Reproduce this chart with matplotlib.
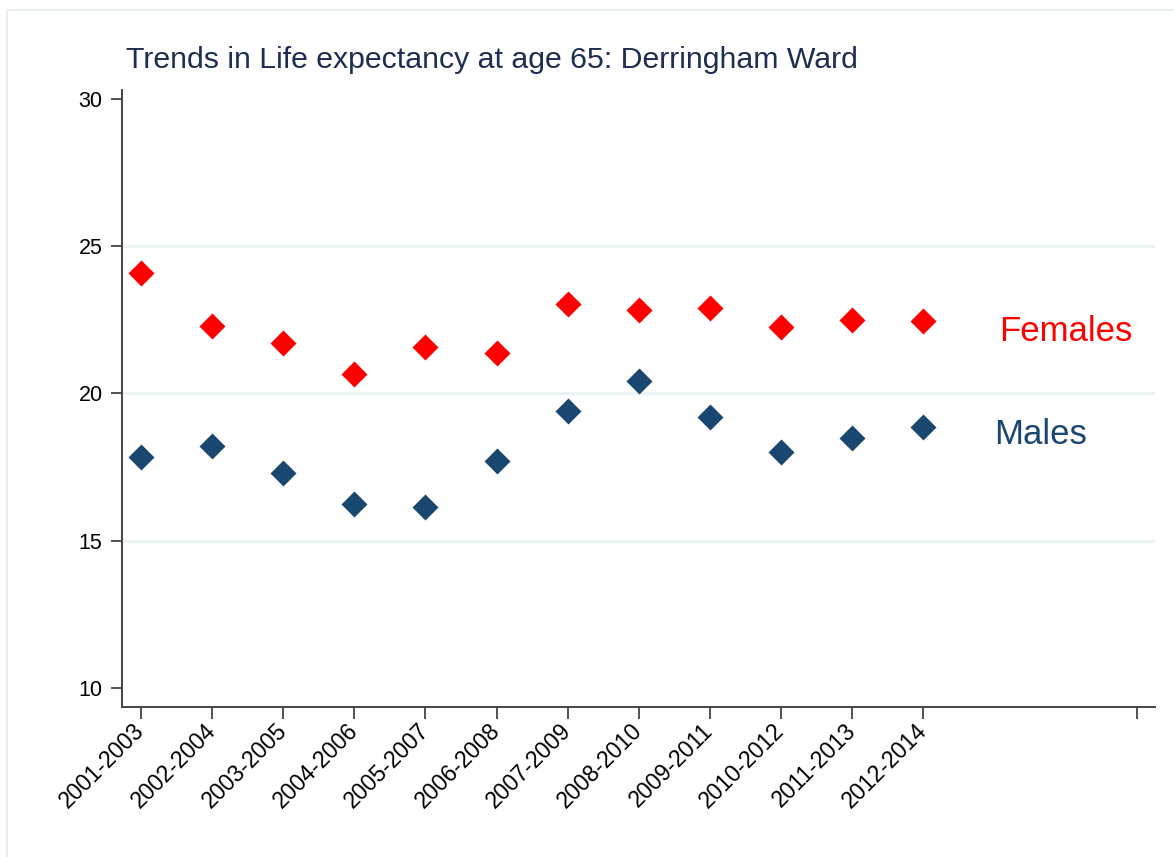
import matplotlib.pyplot as plt
from matplotlib.patches import Rectangle

plt.rcParams['font.family'] = ['Liberation Sans', 'DejaVu Sans']

periods = ['2001-2003', '2002-2004', '2003-2005', '2004-2006', '2005-2007', '2006-2008',
           '2007-2009', '2008-2010', '2009-2011', '2010-2012', '2011-2013', '2012-2014']
females = [24.09, 22.29, 21.71, 20.65, 21.58, 21.37, 23.04, 22.84, 22.90, 22.26, 22.50, 22.47]
males = [17.85, 18.22, 17.30, 16.25, 16.15, 17.71, 19.41, 20.42, 19.20, 18.01, 18.49, 18.86]

W, H = 1174, 857
fig = plt.figure(figsize=(W / 100, H / 100), dpi=100)
ax = fig.add_axes([122 / W, 1 - 707 / H, (1155 - 122) / W, (707 - 90) / H])

# light outer frame
fig.patches.append(Rectangle((7 / W, -0.1), 1.2, 1 - 10 / H + 0.1, transform=fig.transFigure,
                             fill=False, edgecolor='#e8eff1', lw=1.5))

x = list(range(len(periods)))
for g in [15, 20, 25]:
    ax.axhline(g, color='#eaf2f3', lw=2, zorder=0)

ax.plot(x, females, 'D', color='#ff0000', ms=13.5, mec='none')
ax.plot(x, males, 'D', color='#1a476f', ms=13.5, mec='none')

ax.text(12.07, 22.1, 'Females', color='#ff0000', fontsize=25, va='center', ha='left')
ax.text(12.0, 18.6, 'Males', color='#1a476f', fontsize=25, va='center', ha='left')

ax.set_xlim(-0.267, 14.26)
ax.set_ylim(9.35, 30.3)
ax.set_xticks(x + [14])
ax.set_xticklabels(periods + [''], rotation=45, ha='right', va='center',
                   rotation_mode='anchor', fontsize=16.5)
ax.set_yticks([10, 15, 20, 25, 30])
ax.tick_params(axis='y', labelsize=15.5, length=8, width=1.2, color='#333333', pad=6)
ax.tick_params(axis='x', length=8.5, width=1.2, color='#333333', pad=6)

for s in ['top', 'right']:
    ax.spines[s].set_visible(False)
for s in ['left', 'bottom']:
    ax.spines[s].set_color('#444444')
    ax.spines[s].set_linewidth(1.4)

fig.text(126 / W, 1 - 60 / H, 'Trends in Life expectancy at age 65: Derringham Ward',
         color='#1f2d52', fontsize=21.8, va='center', ha='left')

fig.savefig('out.png', dpi=100)
